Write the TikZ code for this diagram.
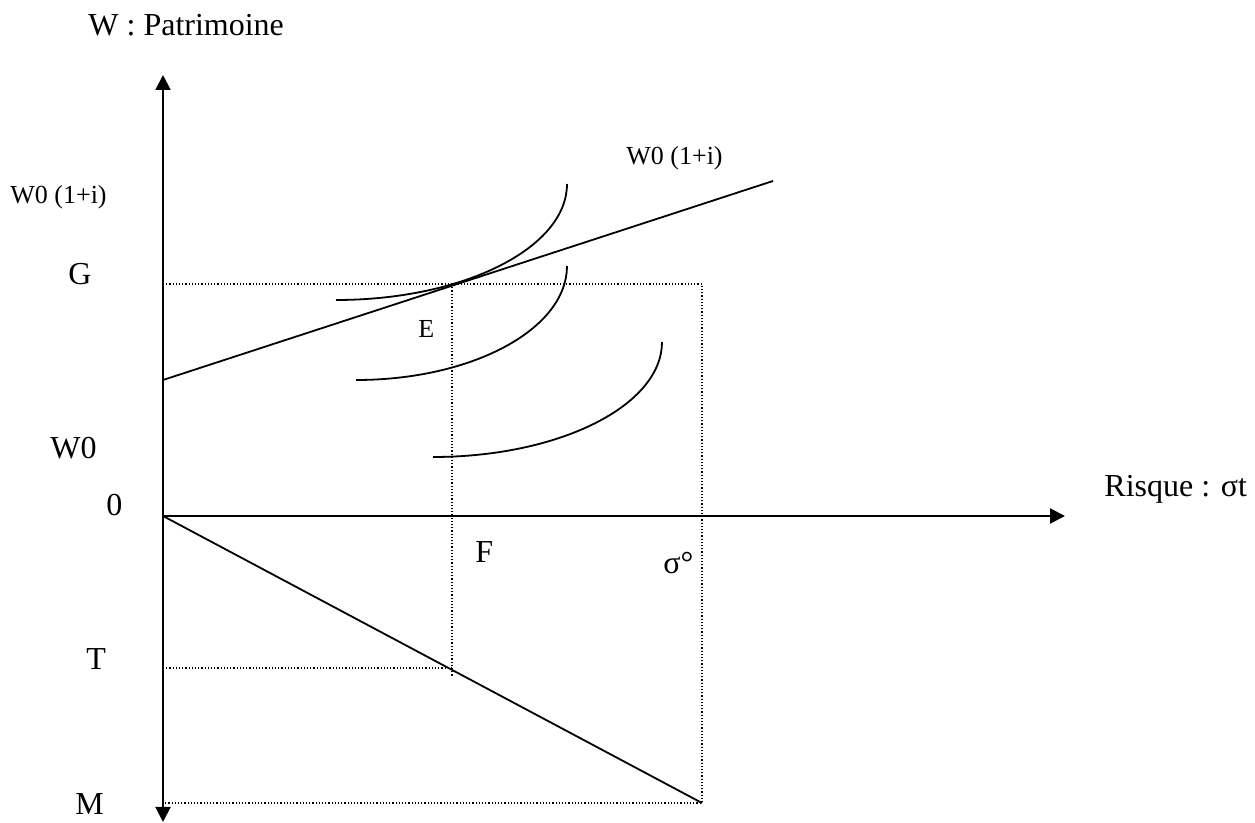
\documentclass[tikz,border=0pt]{standalone}
\usepackage{fontspec}
\setmainfont{Liberation Serif}
\usetikzlibrary{arrows.meta}
\definecolor{grInk}{HTML}{000000}
\tikzset{
  axis/.style={-{Triangle[length=7.5pt,width=7.5pt]},draw=grInk,line width=1pt},
  curve/.style={draw=grInk,line width=.9pt},
  guide/.style={draw=grInk,line width=.6pt,densely dotted},
  lbl/.style={inner sep=0pt,anchor=base west,text=grInk,font=\fontsize{16}{19}\selectfont},
  small/.style={lbl,font=\fontsize{13}{15}\selectfont},
}
\begin{document}
\begin{tikzpicture}[x=.5pt,y=-.5pt]
  \useasboundingbox (0,0) rectangle (1255,823);
  % axes
  \coordinate (O) at (163,516);
  \coordinate (ytop) at (163,75);
  \coordinate (ybot) at (163,822);
  \coordinate (xend) at (1065,516);
  \draw[axis] (O) -- (ytop);
  \draw[axis] (O) -- (ybot);
  \draw[axis] (O) -- (xend);
  % guide lines
  \coordinate (G) at (163,284);
  \coordinate (E) at (452,284);
  \coordinate (Gr) at (702,284);
  \coordinate (F) at (452,677);
  \coordinate (T) at (163,668);
  \coordinate (Tr) at (452,668);
  \coordinate (M) at (163,803);
  \coordinate (Mr) at (702,803);
  \draw[guide] (G) -- (Gr) -- (Mr) -- (M);
  \draw[guide] (E) -- (F);
  \draw[guide] (T) -- (Tr);
  % budget line and risk line
  \coordinate (b0) at (163,380);
  \coordinate (b1) at (773,181);
  \draw[curve] (b0) -- (b1);
  \draw[curve] (O) -- (Mr);
  % indifference curves
  \draw[curve] (336,300) .. controls (463.5,300) and (567,248) .. (567,184);
  \draw[curve] (356,380) .. controls (472.5,380) and (567,329) .. (567,266);
  \draw[curve] (433,457) .. controls (559.4,457) and (662,405.5) .. (662,342);
  % labels
  \node[lbl] (ttl) at (88,36) {W : Patrimoine};
  \node[small] (wil) at (10,204) {W0 (1+i)};
  \node[small] (wir) at (626,165) {W0 (1+i)};
  \node[lbl] (gl) at (68,285) {G};
  \node[small] (el) at (418,338) {E};
  \node[lbl] (w0) at (50,459) {W0};
  \node[lbl] (ol) at (106,516) {0};
  \node[lbl] (fl) at (475,563) {F};
  \node[lbl] (sl) at (663,574) {σ°};
  \node[lbl] (tl) at (86,670) {T};
  \node[lbl] (ml) at (75,815) {M};
  \node[lbl] (xl) at (1104,497) {Risque : σt};
\end{tikzpicture}
\end{document}
